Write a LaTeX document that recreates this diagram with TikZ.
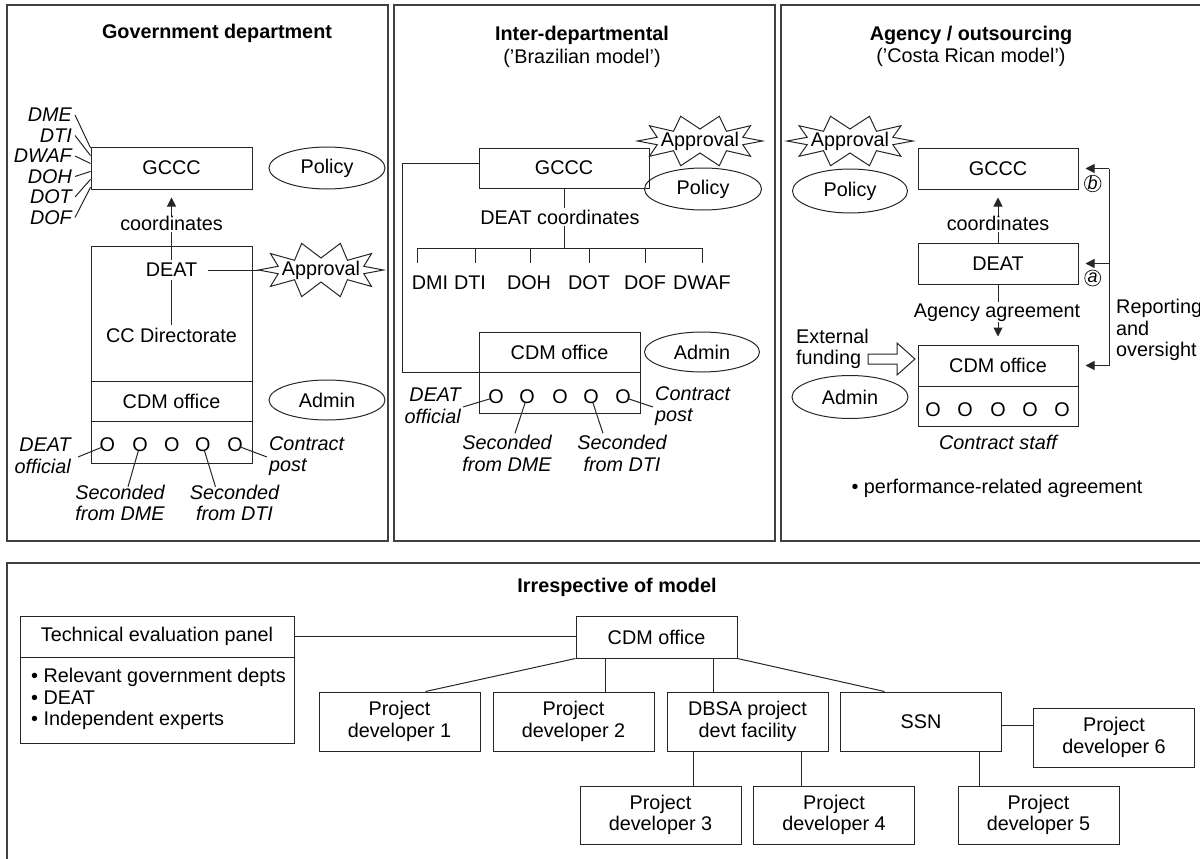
\documentclass[tikz,border=0pt]{standalone}
\usepackage{fontspec}
\setmainfont{Liberation Sans}
\usetikzlibrary{shapes.geometric,arrows.meta,calc}
\begin{document}
\begin{tikzpicture}[x=1pt,y=-1pt,
  font=\fontsize{19.8}{21.5}\selectfont,
  panel/.style={draw=black!75, line width=1.4pt},
  box/.style={draw=black!85, line width=1pt, inner sep=0pt, align=center},
  ell/.style={ellipse, draw=black!85, line width=1pt, inner sep=0pt},
  burstline/.style={draw=black!85, line width=1pt, fill=white, line join=miter},
  ital/.style={font=\fontsize{19.8}{21.5}\selectfont\itshape, inner sep=0pt},
  txt/.style={inner sep=0pt, align=center},
  ttl/.style={font=\fontsize{19.8}{21.5}\selectfont\bfseries, inner sep=0pt},
  con/.style={draw=black!85, line width=1pt},
  arr/.style={con, -{Triangle[length=9pt,width=9pt]}},
  oo/.style={inner sep=0pt},
  circ/.style={circle, draw=black!85, line width=0.8pt, minimum size=16pt, inner sep=0pt, font=\fontsize{18}{18}\selectfont\itshape}
]
\useasboundingbox (0,0) rectangle (1200,859);
\clip (0,0) rectangle (1200,859);

% panels
\draw[panel] (7,5) rectangle (388,541);
\draw[panel] (394,5) rectangle (775,541);
\draw[panel] (781,5) rectangle (1215,541);
\draw[panel] (7,563) rectangle (1215,875);

% ================= LEFT PANEL =================
\node[ttl] at (217,33) {Government department};
\node[box, minimum width=161pt, minimum height=42pt] (lGCCC) at (171.5,168) {GCCC};
\node[ell, minimum width=116pt, minimum height=42pt] (lPol) at (327,168) {Policy};
\node[ital, anchor=east] (lDME) at (72,115) {DME};
\node[ital, anchor=east] (lDTI) at (72,135.5) {DTI};
\node[ital, anchor=east] (lDWAF) at (72,156) {DWAF};
\node[ital, anchor=east] (lDOH) at (72,176.5) {DOH};
\node[ital, anchor=east] (lDOT) at (72,197) {DOT};
\node[ital, anchor=east] (lDOF) at (72,217.5) {DOF};
\foreach \n/\f in {lDME/0.03, lDTI/0.21, lDWAF/0.395, lDOH/0.58, lDOT/0.765, lDOF/0.95}
  \draw[con] ($(\n.east)+(3,0)$) -- ($(lGCCC.north west)!\f!(lGCCC.south west)$);

\node[box, minimum width=161pt, minimum height=135pt] (lTop) at (171.5,313.5) {};
\node[box, minimum width=161pt, minimum height=40pt] (lCDM) at (171.5,401) {CDM office};
\node[box, minimum width=161pt, minimum height=42pt] (lStaff) at (171.5,442) {};
\node[txt] (lDEAT) at (171.5,270) {DEAT};
\node[txt] (lCC) at (171.5,335) {CC Directorate};
\node[txt] (lCoord) at (171.5,223) {coordinates};
\draw[con, shorten <=3pt, shorten >=3pt] (lCC.north) -- (lDEAT.south);
\draw[con, shorten <=3pt, shorten >=2pt] (lDEAT.north) -- (lCoord.south);
\draw[arr, shorten >=8pt] (lCoord.north) -- (lGCCC.south);
\coordinate (lAppC) at (321,270);
\draw[burstline] ($(lAppC)+(0:62.5 and 28)$) \foreach \a in {18,54,...,342} { -- ($(lAppC)+(\a:45 and 12)$) -- ($(lAppC)+(\a+18:62.5 and 28)$) } -- cycle;
\node[txt] (lApp) at (lAppC) {Approval};
\coordinate (lAppW) at ($(lAppC)+(-62.5,0)$);
\draw[con, shorten <=11pt] (lDEAT.east) -- (lAppW);
\node[ell, minimum width=116pt, minimum height=40pt] (lAdm) at (327,400) {Admin};

\foreach \i/\x in {1/107.3,2/140,3/171.7,4/202.7,5/235}
  \node[oo] (lc\i) at (\x,445) {O};
\node[ital, anchor=east, align=right] (lDO) at (71,456) {DEAT\\official};
\node[ital, align=center] (lSD1) at (120,503) {Seconded\\from DME};
\node[ital, align=center] (lSD2) at (234.5,503) {Seconded\\from DTI};
\node[ital, anchor=west, align=left] (lCP) at (269,456) {Contract\\post};
\draw[con, shorten >=5pt] ($(lDO.east)+(7,1)$) -- (lc1.center);
\draw[con, shorten >=6pt] ($(lSD1.north)+(8,2)$) -- (lc2.center);
\draw[con, shorten >=6pt] ($(lSD2.north)+(-19,2)$) -- (lc4.center);
\draw[con, shorten >=5pt] ($(lCP.west)+(-2,1)$) -- (lc5.center);

% ================= MIDDLE PANEL =================
\node[ttl] at (582,35) {Inter-departmental};
\node[txt] at (582,58) {('Brazilian model')};
\node[box, minimum width=170pt, minimum height=40pt] (mGCCC) at (564,168) {GCCC};
\coordinate (mAppC) at (700,141);
\draw[burstline] ($(mAppC)+(0:62.5 and 26)$) \foreach \a in {18,54,...,342} { -- ($(mAppC)+(\a:45 and 12)$) -- ($(mAppC)+(\a+18:62.5 and 26)$) } -- cycle;
\node[txt] (mApp) at (mAppC) {Approval};
\node[ell, minimum width=117pt, minimum height=42pt] (mPol) at (703,189) {Policy};
\node[txt] (mDC) at (560,217) {DEAT coordinates};
\coordinate (mbar) at (563,248);
\draw[con, shorten >=2pt] (mGCCC.south) -- (mGCCC.south |- mDC.north);
\draw[con, shorten <=2pt] (mGCCC.south |- mDC.south) -- (mGCCC.south |- mbar);
\coordinate (mb1) at (417,248);
\coordinate (mb2) at (475,248);
\coordinate (mb3) at (530,248);
\coordinate (mb4) at (589,248);
\coordinate (mb5) at (645,248);
\coordinate (mb6) at (702,248);
\draw[con] (mb1) -- (mb6);
\foreach \i in {1,...,6} \draw[con] (mb\i) -- ++(0,15);
\node[txt] (mDMI) at (430,283) {DMI};
\node[txt] (mDTI) at (470,283) {DTI};
\node[txt] (mDOH) at (529,283) {DOH};
\node[txt] (mDOT) at (589,283) {DOT};
\node[txt] (mDOF) at (645,283) {DOF};
\node[txt] (mDWAF) at (702,283) {DWAF};

\node[box, minimum width=161pt, minimum height=40pt] (mCDM) at (559.5,352) {CDM office};
\node[box, minimum width=161pt, minimum height=41pt] (mStaff) at (559.5,392.5) {};
\coordinate (mX) at (402,0);
\draw[con] ($(mGCCC.west)+(0,-5)$) coordinate (m1) -- (m1 -| mX) -- (mX |- mCDM.south west) -- (mCDM.south west);
\node[ell, minimum width=115pt, minimum height=40pt] (mAdm) at (702,352) {Admin};
\foreach \i/\x in {1/496,2/527,3/560,4/591,5/623}
  \node[oo] (mc\i) at (\x,397) {O};
\node[ital, anchor=east, align=right] (mDO) at (461,406) {DEAT\\official};
\node[ital, align=center] (mSD1) at (507,453.5) {Seconded\\from DME};
\node[ital, align=center] (mSD2) at (622,453.5) {Seconded\\from DTI};
\node[ital, anchor=west, align=left] (mCP) at (655,406) {Contract\\post};
\draw[con, shorten >=5pt] ($(mDO.east)+(2,1)$) -- (mc1.center);
\draw[con, shorten >=6pt] ($(mSD1.north)+(8,-2)$) -- (mc2.center);
\draw[con, shorten >=6pt] ($(mSD2.north)+(-19,-2)$) -- (mc4.center);
\draw[con, shorten >=5pt] ($(mCP.west)+(-2,1)$) -- (mc5.center);

% ================= RIGHT PANEL =================
\node[ttl] at (971,35) {Agency / outsourcing};
\node[txt] at (971,57) {('Costa Rican model')};
\coordinate (rAppC) at (850,141);
\draw[burstline] ($(rAppC)+(0:63 and 26)$) \foreach \a in {18,54,...,342} { -- ($(rAppC)+(\a:45 and 12)$) -- ($(rAppC)+(\a+18:63 and 26)$) } -- cycle;
\node[txt] (rApp) at (rAppC) {Approval};
\node[ell, minimum width=115pt, minimum height=44pt] (rPol) at (850,191) {Policy};
\node[box, minimum width=160pt, minimum height=41pt] (rGCCC) at (998,168.5) {GCCC};
\node[txt] (rCoord) at (998,223) {coordinates};
\node[box, minimum width=160pt, minimum height=41pt] (rDEAT) at (998,263.5) {DEAT};
\draw[con, shorten <=0pt, shorten >=2pt] (rDEAT.north) -- (rCoord.south);
\draw[arr, shorten >=8pt] (rCoord.north) -- (rGCCC.south);
\node[txt] (rAg) at (997,313) {Agency agreement};
\node[box, minimum width=160pt, minimum height=41pt] (rCDM) at (998,365.5) {CDM office};
\node[box, minimum width=160pt, minimum height=40pt] (rStaff) at (998,406) {};
\draw[con, shorten >=2pt] (rDEAT.south) -- (rDEAT.south |- rAg.north);
\draw[arr, shorten >=8pt] (rDEAT.south |- rAg.south) -- (rCDM.north);
\foreach \i/\x in {1/933,2/965,3/998,4/1030,5/1062}
  \node[oo] (rc\i) at (\x,410) {O};
\node[ital] (rCS) at (998,442) {Contract staff};
\node[txt] (rPerf) at (997,488) {• performance-related agreement};
\node[txt, anchor=west, align=left] (rEF) at (796,349) {External\\funding};
\coordinate (rEFa) at (868,359);
\draw[con, fill=white] (rEFa) ++(0,-5) -- ++(29,0) -- ++(0,-11) -- ++(18,16) -- ++(-18,16) -- ++(0,-11) -- ++(-29,0) -- cycle;
\node[ell, minimum width=116pt, minimum height=43pt] (rAdm) at (850,397) {Admin};

\coordinate (rX) at (1109,0);
\draw[con] (rX |- rGCCC.east) -- (rX |- rCDM.east);
\foreach \n in {rGCCC,rDEAT,rCDM}
  \draw[arr, shorten >=7pt] (rX |- \n.east) -- (\n.east);
\node[circ] (rb) at (1092.7,183.5) {b};
\node[circ] (ra) at (1092.7,278) {a};
\node[txt, anchor=west, align=left] (rRep) at (1116,330) {Reporting\\and\\oversight};

% ================= BOTTOM PANEL =================
\node[ttl] at (617,587) {Irrespective of model};
\node[box, minimum width=274pt, minimum height=41pt] (bTEP) at (157,636.5) {Technical evaluation panel};
\node[box, minimum width=274pt, minimum height=86pt] (bTEPl) at (157,700) {};
\node[txt, anchor=west, align=left] (bTEPt) at (31,699) {• Relevant government depts\\• DEAT\\• Independent experts};
\node[box, minimum width=161pt, minimum height=42pt] (bCDM) at (656.5,637) {CDM office};
\node[box, minimum width=161pt, minimum height=59pt] (bPD1) at (399.5,721.5) {Project\\developer 1};
\node[box, minimum width=161pt, minimum height=59pt] (bPD2) at (573.5,721.5) {Project\\developer 2};
\node[box, minimum width=161pt, minimum height=59pt] (bDBSA) at (747.5,721.5) {DBSA project\\devt facility};
\node[box, minimum width=161pt, minimum height=59pt] (bSSN) at (921,721.5) {SSN};
\node[box, minimum width=161pt, minimum height=59pt] (bPD6) at (1114,737.5) {Project\\developer 6};
\node[box, minimum width=161pt, minimum height=58pt] (bPD3) at (660.5,815) {Project\\developer 3};
\node[box, minimum width=161pt, minimum height=58pt] (bPD4) at (834,815) {Project\\developer 4};
\node[box, minimum width=161pt, minimum height=58pt] (bPD5) at (1038.5,815) {Project\\developer 5};

\draw[con] (bTEP.east) -- (bTEP.east -| bCDM.west);
\draw[con] (bCDM.south west) -- ($(bPD1.north)+(26,0)$);
\draw[con] ($(bPD2.north)+(32,0)$) coordinate (t2) -- (t2 |- bCDM.south);
\draw[con] ($(bDBSA.north)+(-34,0)$) coordinate (t3) -- (t3 |- bCDM.south);
\draw[con] (bCDM.south east) -- ($(bSSN.north)+(-36.5,0)$);
\draw[con] ($(bSSN.east)+(0,4)$) coordinate (t6) -- (t6 -| bPD6.west);
\draw[con] ($(bPD3.north)+(33,0)$) coordinate (t4) -- (t4 |- bDBSA.south);
\draw[con] ($(bPD4.north)+(-33,0)$) coordinate (t5) -- (t5 |- bDBSA.south);
\draw[con] ($(bPD5.north)+(-59.5,0)$) coordinate (t7) -- (t7 |- bSSN.south);
\end{tikzpicture}
\end{document}
